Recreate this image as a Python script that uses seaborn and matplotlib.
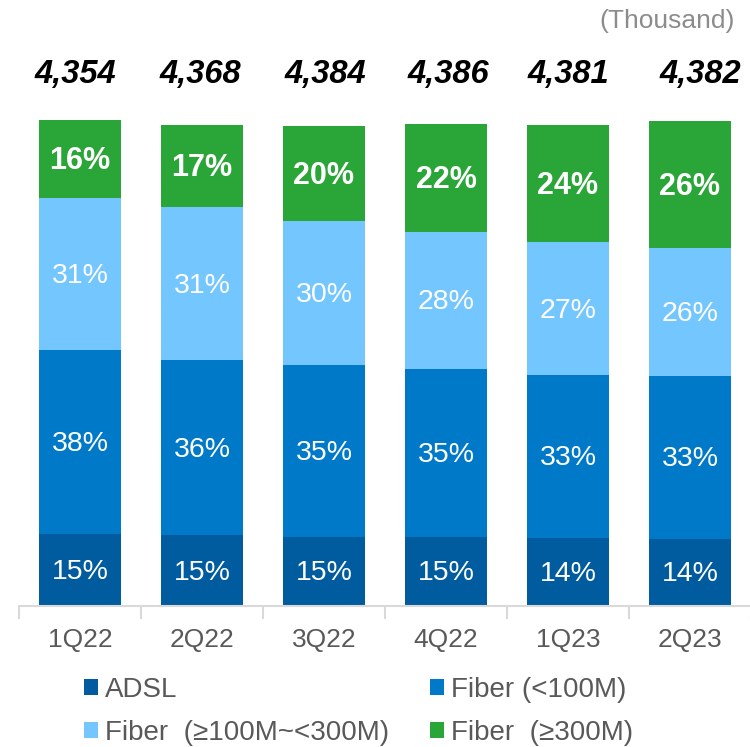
import numpy as np
import pandas as pd
import matplotlib
matplotlib.use("Agg")
import matplotlib.pyplot as plt
from matplotlib.patches import Patch
import seaborn as sns

quarters = ["1Q22", "2Q22", "3Q22", "4Q22", "1Q23", "2Q23"]
totals = ["4,354", "4,368", "4,384", "4,386", "4,381", "4,382"]
adsl = [14.76, 14.56, 14.27, 14.27, 14.06, 13.86]
fiber_lt100 = [38.0, 36.15, 35.41, 34.59, 33.5, 33.56]
fiber_100_300 = [31.17, 31.38, 29.59, 28.15, 27.38, 26.35]
fiber_ge300 = [16.06, 16.88, 19.56, 22.17, 24.03, 26.02]
labels_adsl = ["15%", "15%", "15%", "15%", "14%", "14%"]
labels_lt100 = ["38%", "36%", "35%", "35%", "33%", "33%"]
labels_100_300 = ["31%", "31%", "30%", "28%", "27%", "26%"]
labels_ge300 = ["16%", "17%", "20%", "22%", "24%", "26%"]

series_names = ["ADSL", "Fiber (<100M)", "Fiber  (\u2265100M~<300M)", "Fiber  (\u2265300M)"]
colors = ["#005C9E", "#0079C8", "#74C6FF", "#2AA537"]

sns.set_theme(style="white")
plt.rcParams["font.family"] = ["Liberation Sans", "DejaVu Sans"]

layers = [adsl, fiber_lt100, fiber_100_300, fiber_ge300]
layer_labels = [labels_adsl, labels_lt100, labels_100_300, labels_ge300]
cum = np.cumsum(np.array(layers), axis=0)

fig = plt.figure(figsize=(7.5, 7.47), dpi=100)
ax = fig.add_axes([19 / 750, (747 - 606) / 747, 732 / 750, 586 / 747])
px_per_unit = 485.7 / 100.0
ax.set_ylim(0, 586 / px_per_unit)

# stacked bars: draw cumulative heights from top layer down
for i in range(len(layers) - 1, -1, -1):
    df = pd.DataFrame({"quarter": quarters, "value": cum[i]})
    sns.barplot(data=df, x="quarter", y="value", color=colors[i], width=0.667,
                saturation=1, ax=ax, errorbar=None, order=quarters,
                edgecolor="none", linewidth=0)

ax.set_xlim(-0.5, len(quarters) - 0.5)

# segment labels
for i in range(len(layers)):
    bottoms = cum[i] - np.array(layers[i])
    for j in range(len(quarters)):
        yc = bottoms[j] + layers[i][j] / 2
        bold = (i == 3)
        ax.annotate(layer_labels[i][j], (j, yc), xytext=(0, -1.5),
                    textcoords="offset points", ha="center", va="center",
                    color="white", fontsize=22 if bold else 20.5,
                    fontweight="bold" if bold else "normal")

# totals (slight horizontal nudges as in the original layout)
nudges_px = [-5, -2, 1, 2, 0, 10]
px_per_cat = 732 / 6
for j, t in enumerate(totals):
    ax.text(j + nudges_px[j] / px_per_cat, (606 - 83) / px_per_unit, t,
            ha="center", va="baseline",
            fontsize=23.5, fontweight="bold", fontstyle="italic", color="black")

fig.text(735 / 750, 1 - 21 / 747, "(Thousand)", ha="right", va="center",
         fontsize=19, color="#8C8C8C")

# axes styling
for s in ["top", "right", "left"]:
    ax.spines[s].set_visible(False)
ax.spines["bottom"].set_color("#D9D9D9")
ax.spines["bottom"].set_linewidth(1.5)
ax.set_yticks([])
ax.set_xlabel("")
ax.set_ylabel("")
ax.set_xticks(np.arange(-0.5, len(quarters), 1), minor=True)
ax.tick_params(axis="x", which="minor", length=9, width=1.5, color="#D9D9D9", bottom=True)
ax.tick_params(axis="x", which="major", length=0, pad=16, labelsize=19, labelcolor="#595959")

# legend (column-wise fill)
order = [0, 2, 1, 3]
handles = [Patch(facecolor=colors[k], edgecolor="none") for k in order]
names = [series_names[k] for k in order]
fig.legend(handles, names, ncol=2, loc="upper left",
           bbox_to_anchor=(84 / 750, 1 - 677 / 747), frameon=False,
           fontsize=20, labelcolor="#595959", handlelength=0.5, handleheight=0.5,
           handletextpad=0.27, columnspacing=1.45, labelspacing=0.62,
           borderpad=0, borderaxespad=0)

fig.savefig("out.png", dpi=100)
